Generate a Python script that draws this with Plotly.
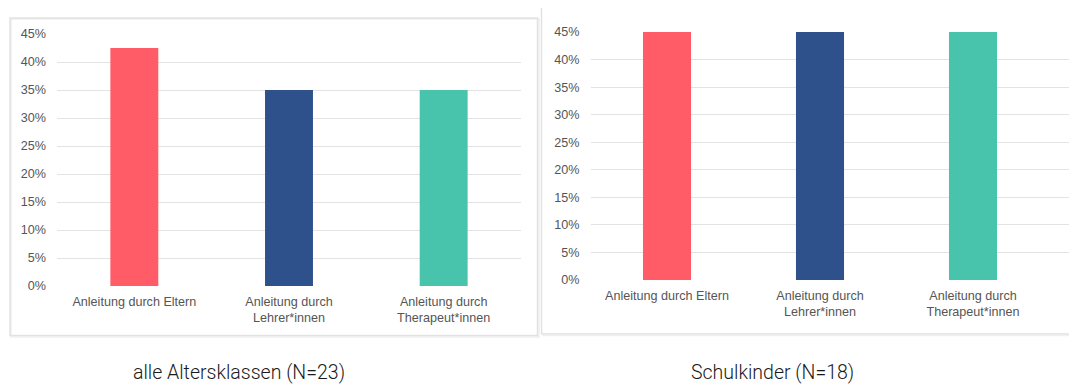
import plotly.graph_objects as go

# Data
categories = ["Anleitung durch Eltern", "Anleitung durch Lehrer*innen", "Anleitung durch Therapeut*innen"]
tick_labels = ["Anleitung durch Eltern", "Anleitung durch<br>Lehrer*innen", "Anleitung durch<br>Therapeut*innen"]
all_ages = [0.425, 0.35, 0.35]        # alle Altersklassen (N=23)
school_kids = [0.45, 0.45, 0.45]      # Schulkinder (N=18)
panel_titles = ["alle Altersklassen (N=23)", "Schulkinder (N=18)"]
y_ticks = [0, 0.05, 0.10, 0.15, 0.20, 0.25, 0.30, 0.35, 0.40, 0.45]

bar_colors = ["#FF5C67", "#2E518C", "#48C4AC"]
W, H = 1069, 385


def px_x(v):
    return v / W


def px_y(v):
    return 1 - v / H


fig = go.Figure()
positions = list(range(len(categories)))

fig.add_trace(go.Bar(x=positions, y=all_ages, marker=dict(color=bar_colors, line=dict(width=0)),
                     width=0.31, xaxis="x", yaxis="y", hovertext=categories, showlegend=False))
fig.add_trace(go.Bar(x=positions, y=school_kids, marker=dict(color=bar_colors, line=dict(width=0)),
                     width=0.314, xaxis="x2", yaxis="y2", hovertext=categories, showlegend=False))

tick_font = dict(family="Liberation Sans, Arial, sans-serif", size=12.6, color="#555555")
cat_font = dict(family="Liberation Sans, Arial, sans-serif", size=12.6, color="#555555")

common_y = dict(range=[0, 0.45], tickvals=y_ticks, tickformat=".0%", showgrid=True,
                gridcolor="#e3e3e3", gridwidth=1.3, zeroline=False, showline=False,
                tickfont=tick_font, ticks="", ticklabelstandoff=10, fixedrange=True,
                automargin=False)
common_x = dict(tickvals=positions, ticktext=tick_labels, showgrid=False, zeroline=False,
                showline=False, tickfont=cat_font, ticks="", ticklabelstandoff=6, fixedrange=True,
                automargin=False)

fig.update_layout(
    width=W, height=H,
    margin=dict(l=0, r=0, t=0, b=0, pad=0),
    paper_bgcolor="white", plot_bgcolor="white",
    xaxis=dict(domain=[px_x(57), px_x(521)], range=[-0.5, 2.5], anchor="y", **common_x),
    yaxis=dict(domain=[px_y(286), px_y(34)], anchor="x", **common_y),
    xaxis2=dict(domain=[px_x(590.5), 1.0], range=[-0.5, -0.5 + 478.5 / 153], anchor="y2", **common_x),
    yaxis2=dict(domain=[px_y(280), px_y(32)], anchor="x2", **common_y),
)

# Panel frames
frame = dict(color="#e2e2e2", width=1.5)
shadow = dict(color="#f0f0f0", width=1.5)
fig.add_shape(type="rect", xref="paper", yref="paper",
              x0=px_x(11), x1=px_x(539), y0=px_y(337), y1=px_y(19), line=shadow, layer="below")
fig.add_shape(type="rect", xref="paper", yref="paper",
              x0=px_x(10), x1=px_x(537.5), y0=px_y(335.5), y1=px_y(18), line=frame, layer="below")
fig.add_shape(type="line", xref="paper", yref="paper",
              x0=px_x(541.5), x1=px_x(541.5), y0=px_y(334), y1=px_y(8), line=frame, layer="below")
fig.add_shape(type="line", xref="paper", yref="paper",
              x0=px_x(541.5), x1=1.0, y0=px_y(334), y1=px_y(334), line=frame, layer="below")
fig.add_shape(type="line", xref="paper", yref="paper",
              x0=px_x(542), x1=1.0, y0=px_y(335.5), y1=px_y(335.5), line=shadow, layer="below")

# Panel captions
caption_font = dict(family="Roboto, sans-serif", size=19.5, color="#1a1a1a", weight=300)
fig.add_annotation(text=panel_titles[0], xref="paper", yref="paper", x=px_x(239), y=px_y(372),
                   showarrow=False, font=caption_font, xanchor="center", yanchor="middle")
fig.add_annotation(text=panel_titles[1], xref="paper", yref="paper", x=px_x(772), y=px_y(372),
                   showarrow=False, font=caption_font, xanchor="center", yanchor="middle")

fig.write_html("out.html")
